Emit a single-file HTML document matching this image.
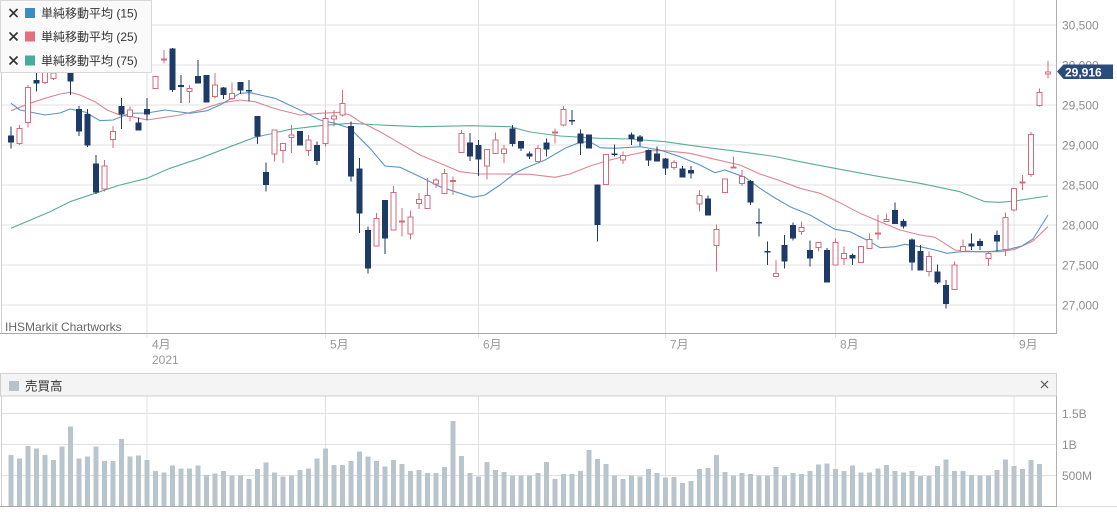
<!DOCTYPE html>
<html><head><meta charset="utf-8"><style>
html,body{margin:0;padding:0;background:#fff;}
svg{display:block;font-family:"Liberation Sans","Noto Sans CJK JP",sans-serif;}
</style></head><body>
<svg width="1117" height="512" viewBox="0 0 1117 512" xmlns="http://www.w3.org/2000/svg">
<rect width="1117" height="512" fill="#fff"/>
<!-- main grid -->
<g stroke="#e0e0e0" stroke-width="1" shape-rendering="crispEdges">
<path d="M2 25H1057M2 65H1057M2 105H1057M2 145H1057M2 185H1057M2 225H1057M2 265H1057M2 305H1057"/>
<path d="M147 0V338M325.5 0V338M478.5 0V338M665.5 0V338M835.5 0V338M1014 0V338"/>
<path d="M147 396V506M325.5 396V506M478.5 396V506M665.5 396V506M835.5 396V506M1014 396V506"/>
<path d="M2 413.5H1057M2 444.5H1057M2 475.5H1057"/>
</g>
<!-- borders -->
<g stroke-width="1" shape-rendering="crispEdges" fill="none">
<path d="M1.5 0V334" stroke="#cfcfcf"/>
<path d="M1056.5 0V334" stroke="#b0b0b0"/>
<path d="M0 333.5H1057" stroke="#a8a8a8"/>
<rect x="0.5" y="373.5" width="1056" height="22.5" fill="#f4f4f4" stroke="#d0d0d0"/>
<path d="M1.5 396V506" stroke="#cfcfcf"/>
<path d="M1056.5 396V506" stroke="#b0b0b0"/>
<path d="M0 506.5H1057" stroke="#a8a8a8"/>
<path d="M1057 506.5H1117" stroke="#dcdcdc"/>
</g>
<!-- volume bars -->
<path fill="#b8c5cd" shape-rendering="crispEdges" d="M8.5 455h5V506h-5zM17 458.3h5V506h-5zM25.5 446h5V506h-5zM34 448.3h5V506h-5zM42.5 455h5V506h-5zM51 460h5V506h-5zM59.5 446.7h5V506h-5zM68 426.7h5V506h-5zM76.5 458.3h5V506h-5zM85 456.7h5V506h-5zM93.5 446.7h5V506h-5zM102 461h5V506h-5zM110.5 461h5V506h-5zM119 439h5V506h-5zM127.5 456.7h5V506h-5zM136 455.7h5V506h-5zM144.5 460h5V506h-5zM153 471h5V506h-5zM161.5 472.3h5V506h-5zM170 465.7h5V506h-5zM178.5 468.3h5V506h-5zM187 468.3h5V506h-5zM195.5 465.7h5V506h-5zM204 475h5V506h-5zM212.5 473.3h5V506h-5zM221 471h5V506h-5zM229.5 475.7h5V506h-5zM238 475.7h5V506h-5zM246.5 479h5V506h-5zM255 469h5V506h-5zM263.5 462.3h5V506h-5zM272 472.3h5V506h-5zM280.5 476.7h5V506h-5zM289 475.7h5V506h-5zM297.5 470h5V506h-5zM306 468.3h5V506h-5zM314.5 458.3h5V506h-5zM323 448.3h5V506h-5zM331.5 465h5V506h-5zM340 465h5V506h-5zM348.5 461h5V506h-5zM357 451.7h5V506h-5zM365.5 456.7h5V506h-5zM374 461h5V506h-5zM382.5 466.7h5V506h-5zM391 460h5V506h-5zM399.5 464h5V506h-5zM408 471h5V506h-5zM416.5 470h5V506h-5zM425 473h5V506h-5zM433.5 473h5V506h-5zM442 467h5V506h-5zM450.5 421h5V506h-5zM459 456h5V506h-5zM467.5 473h5V506h-5zM476 476.7h5V506h-5zM484.5 462h5V506h-5zM493 470h5V506h-5zM501.5 472h5V506h-5zM510 475.3h5V506h-5zM518.5 475.3h5V506h-5zM527 475.3h5V506h-5zM535.5 473h5V506h-5zM544 462h5V506h-5zM552.5 479h5V506h-5zM561 474h5V506h-5zM569.5 474h5V506h-5zM578 471h5V506h-5zM586.5 450h5V506h-5zM595 459h5V506h-5zM603.5 464h5V506h-5zM612 475.3h5V506h-5zM620.5 479h5V506h-5zM629 475.3h5V506h-5zM637.5 476.7h5V506h-5zM646 469h5V506h-5zM654.5 473h5V506h-5zM663 477.7h5V506h-5zM671.5 477h5V506h-5zM680 483h5V506h-5zM688.5 481h5V506h-5zM697 469h5V506h-5zM705.5 468h5V506h-5zM714 455h5V506h-5zM722.5 472h5V506h-5zM731 475.7h5V506h-5zM739.5 473h5V506h-5zM748 474h5V506h-5zM756.5 475.3h5V506h-5zM765 475.7h5V506h-5zM773.5 467h5V506h-5zM782 475.3h5V506h-5zM790.5 473h5V506h-5zM799 474h5V506h-5zM807.5 471h5V506h-5zM816 464.3h5V506h-5zM824.5 463.3h5V506h-5zM833 469h5V506h-5zM841.5 471h5V506h-5zM850 465.7h5V506h-5zM858.5 472.3h5V506h-5zM867 472.3h5V506h-5zM875.5 468.3h5V506h-5zM884 465h5V506h-5zM892.5 471h5V506h-5zM901 472.3h5V506h-5zM909.5 471h5V506h-5zM918 476h5V506h-5zM926.5 476h5V506h-5zM935 466h5V506h-5zM943.5 459.3h5V506h-5zM952 471h5V506h-5zM960.5 471h5V506h-5zM969 475h5V506h-5zM977.5 475.7h5V506h-5zM986 475.7h5V506h-5zM994.5 470h5V506h-5zM1003 459.3h5V506h-5zM1011.5 466h5V506h-5zM1020 469h5V506h-5zM1028.5 460h5V506h-5zM1037 464h5V506h-5z"/>
<!-- moving averages -->
<g fill="none" stroke-width="1.1" stroke-linejoin="round">
<polyline stroke="#5bab9c" points="11,228.3 50,211.7 70,201.7 95,193.3 120,185 147,178.3 170,168.3 200,158.3 230,146.7 255,137.3 270,134 290,129.3 320,125.7 350,123.3 380,125 420,126.7 470,125.7 510,126.7 530,132 560,136 600,138.3 630,139 665,141.7 700,146.7 740,151.7 775,156.5 800,161.7 840,169.3 880,176.7 920,183.3 960,191.7 985,201.7 1000,202.3 1015,201 1048,196"/>
<polyline stroke="#dc8594" points="11,110.7 30,103.3 45,98.3 60,94 70,92.3 80,95 95,101.7 107,110 120,115 135,117.3 147,120 165,117.3 180,115 200,110 220,103.3 240,100 255,101.7 270,107 280,110 300,115 320,113.3 340,112.3 350,115 360,121.7 380,131.7 400,143.3 420,155 440,163.3 460,171.7 480,174 500,174 530,174.3 555,177.3 570,174 590,166 610,160 630,155 650,150.7 665,150.7 690,153.3 715,159.3 740,165 760,174 778,180 800,188.3 820,193.3 840,202.7 860,213.3 880,221.7 900,230 920,235 935,237.3 955,250 975,251.7 1000,251.7 1015,249.3 1033,241 1048,226.7"/>
<polyline stroke="#5a95c4" points="11,103.3 20,110 45,115 60,113 70,109 85,112 100,120.7 113,120 130,113.3 147,113 165,110 190,113.3 207,110.7 220,105 240,93.3 250,92.7 260,95 275,98.3 300,110 320,120 335,123.3 350,128.3 370,148.3 385,166 400,167.3 420,176.7 440,186.7 460,193.3 473,197.3 485,195 500,185 515,173.3 525,168.3 545,160 565,148.3 580,142.3 590,141.7 600,147.7 615,148.3 640,146.7 660,150 680,156.7 700,165 715,172.7 725,170 745,177.3 760,188.3 775,198 790,206.7 810,215 835,229.3 850,231.7 870,241.7 880,247.7 895,246.7 905,244.3 920,246.7 935,250 947,253.3 960,251.7 990,251.7 1010,249 1022,246 1033,239 1048,215"/>
</g>
<!-- candles -->
<g shape-rendering="crispEdges">
<path fill="none" stroke="#d46b7c" stroke-width="1" d="M19.5 125V145M28 85V127.7M45 68V84M53.5 70V80M62 45V65M104.5 160V191.7M113 126V148M130 106.7V121.7M155.5 76.7V88.3M164 50V63.3M189.5 85V103M215 73V98M232 82.7V100M274.5 130V161.7M283 143V163M291.5 125V153M308.5 135V156M325.5 110V146.7M334 110V126.7M342.5 90V116.7M376.5 213V246M393.5 186V230M402 208V236.7M410.5 210.7V239.3M419 193V209M427.5 178V208.3M436 178V188M444.5 169V193.3M453 176.7V195M461.5 130V152.3M487 149V179.3M495.5 132.7V153.3M504 145V163M538 145V161.7M555 128.3V143.3M563.5 106V126.7M606 154.3V184.3M623 151.7V164M674 160V170M699.5 190V211.7M716.5 224.3V271.7M725 179V192.3M733.5 156.7V168.3M742 170V186M776 260V276.7M801.5 221.7V235M818.5 242.7V251.7M835.5 238.3V265M844 246.7V265M861 246.7V262.3M869.5 233.3V248.3M878 215V239.3M886.5 213.3V221.7M929 251.7V276.7M954.5 261.7V289.3M963 239.3V251.7M988.5 251.7V266M1005.5 212.7V256M1014 188.3V211.7M1022.5 175V190M1031 132V177M1039.5 88.3V106.7M1048 61V78.3"/>
<path fill="#fff" stroke="#d46b7c" stroke-width="1" d="M17 128.3h5V143.3h-5zM25.5 87.3h5V122.3h-5zM42.5 71.3h5V82.5h-5zM51 73h5V78.3h-5zM59.5 47.7h5V62h-5zM102 166h5V189h-5zM110.5 131.7h5V139.3h-5zM127.5 110h5V116.7h-5zM153 76.7h5V88.3h-5zM161.5 58.8h5V59.8h-5zM187 88.3h5V91.7h-5zM212.5 85h5V96.7h-5zM229.5 93.3h5V98.3h-5zM272 130h5V154h-5zM280.5 143.3h5V150.7h-5zM289 135h5V137.3h-5zM306 140h5V150.7h-5zM323 118.3h5V143.3h-5zM331.5 116h5V119h-5zM340 103.3h5V115h-5zM374 218.3h5V246h-5zM391 192.7h5V230h-5zM399.5 221.2h5V222.2h-5zM408 217h5V234h-5zM416.5 199.3h5V203.3h-5zM425 195.7h5V208.3h-5zM433.5 180h5V184h-5zM442 173.3h5V193.3h-5zM450.5 180.5h5V181.5h-5zM459 133.3h5V152.3h-5zM484.5 149.3h5V166h-5zM493 140h5V153.3h-5zM501.5 149h5V153.3h-5zM535.5 148.3h5V161.7h-5zM552.5 131.8h5V132.8h-5zM561 109.3h5V125h-5zM603.5 154.3h5V184.3h-5zM620.5 155.7h5V160h-5zM671.5 162.7h5V167.7h-5zM697 195.7h5V204h-5zM714 229.3h5V245.7h-5zM722.5 179h5V192.3h-5zM731 167.2h5V168.2h-5zM739.5 176.7h5V183.3h-5zM773.5 273.3h5V276.7h-5zM799 227.3h5V231.7h-5zM816 242.7h5V247.3h-5zM833 242.7h5V265h-5zM841.5 253.3h5V258.3h-5zM858.5 246.7h5V262.3h-5zM867 239.3h5V248.3h-5zM875.5 232.8h5V233.8h-5zM884 219.3h5V221.7h-5zM926.5 256.7h5V271.7h-5zM952 265h5V289.3h-5zM960.5 246.7h5V251.7h-5zM986 253.3h5V258.3h-5zM1003 217.3h5V249.3h-5zM1011.5 188.3h5V210h-5zM1020 181.8h5V182.8h-5zM1028.5 134.3h5V174.3h-5zM1037 92.3h5V105.7h-5zM1045.5 72h5V74h-5z"/>
<path fill="none" stroke="#1e3a66" stroke-width="1" d="M11 126.7V148.3M36.5 73V91.7M70.5 50V95M79 106V136M87.5 109V147M96 155V194M121.5 98V129M138.5 117.7V130.7M147 98V120M172.5 48V92M181 75V103M198 60V83.3M206.5 75V102.7M223.5 87V99M240.5 82V94M249 80V101.7M257.5 116V144M266 162.7V191.7M300 131V145.7M317 141.7V165M351 121.7V181.7M359.5 158V233M368 226.7V273.3M385 200V254M470 133V161M478.5 140V176M512.5 125V146.7M521 141V151M529.5 151.7V159M546.5 138.3V156.7M572 110V125M580.5 129.3V155M589 134.3V148.3M597.5 184.3V241.7M614.5 144.3V156.7M631.5 132.3V145M640 135V146M648.5 149.3V166M657 146.7V161.7M665.5 158V175M682.5 166V177.7M691 166V178.3M708 195.7V215.7M750.5 180V205M759 208.3V236.7M767.5 241.7V265M784.5 235V268.3M793 222.7V240.7M810 240.7V266.7M827 248V282.7M852.5 253.3V265M895 202.3V224M903.5 219V228.3M912 238.3V270.7M920.5 245V270.7M937.5 264.3V284M946 280V308.3M971.5 233.3V250M980 238.3V250M997 230.7V251.7"/>
<path fill="#1e3a66" d="M8 135.3h6V142.7h-6zM33.5 80h6V83.3h-6zM67.5 55h6V81.7h-6zM76 109h6V131.7h-6zM84.5 114h6V145.7h-6zM93 163.3h6V192.7h-6zM118.5 106h6V114.3h-6zM135.5 122.3h6V130.7h-6zM144 109h6V114.3h-6zM169.5 48.3h6V90h-6zM178 85h6V87h-6zM195 76h6V83.3h-6zM203.5 75h6V102.7h-6zM220.5 87.3h6V95h-6zM237.5 82h6V90.7h-6zM246 90h6V91.5h-6zM254.5 116h6V136.7h-6zM263 172h6V185h-6zM297 131h6V145.7h-6zM314 145h6V161h-6zM348 126h6V176.7h-6zM356.5 168.3h6V213.3h-6zM365 230h6V268.3h-6zM382 200h6V238.3h-6zM467 142.7h6V156.7h-6zM475.5 145h6V159.3h-6zM509.5 128.3h6V144h-6zM518 141h6V148.3h-6zM526.5 153.5h6V156.7h-6zM543.5 142.3h6V149.3h-6zM569 120h6V121.5h-6zM577.5 133.3h6V143.3h-6zM586 134.3h6V148.3h-6zM594.5 184.3h6V225h-6zM611.5 153.5h6V155h-6zM628.5 134.3h6V139h-6zM637 136.7h6V141.7h-6zM645.5 150h6V160.7h-6zM654 153.3h6V161.7h-6zM662.5 158.3h6V168.3h-6zM679.5 168.3h6V177.7h-6zM688 170h6V173.3h-6zM705 198.3h6V215.7h-6zM747.5 181h6V202.7h-6zM756 222h6V223.5h-6zM764.5 251h6V252.5h-6zM781.5 245h6V261.7h-6zM790 225h6V238.3h-6zM807 250h6V258.3h-6zM824 250h6V282.7h-6zM849.5 255h6V258.3h-6zM892 210h6V224h-6zM900.5 221h6V226.7h-6zM909 239.3h6V262.7h-6zM917.5 251h6V270.7h-6zM934.5 271.7h6V282.7h-6zM943 285h6V304h-6zM968.5 243.3h6V246.7h-6zM977 241h6V246h-6zM994 235h6V241.7h-6z"/>
</g>
<!-- right axis labels -->
<g font-size="12" fill="#8e8e8e">
<text x="1062" y="29.5">30,500</text>
<text x="1062" y="69.5">30,000</text>
<text x="1062" y="109.5">29,500</text>
<text x="1062" y="149.5">29,000</text>
<text x="1062" y="189.5">28,500</text>
<text x="1062" y="229.5">28,000</text>
<text x="1062" y="269.5">27,500</text>
<text x="1062" y="309.5">27,000</text>
<text x="1062" y="418">1.5B</text>
<text x="1062" y="449">1B</text>
<text x="1062" y="480">500M</text>
</g>
<!-- price tag -->
<polygon points="1057,71.5 1063.5,64.5 1113,64.5 1113,79 1063.5,79" fill="#2b4b7d"/>
<text x="1065" y="76.3" font-size="12" font-weight="bold" fill="#fff">29,916</text>
<!-- x-axis labels -->
<g font-size="12" fill="#999">
<text x="152" y="348.5">4月</text>
<text x="152" y="364">2021</text>
<text x="330" y="348.5">5月</text>
<text x="483" y="348.5">6月</text>
<text x="670" y="348.5">7月</text>
<text x="840" y="348.5">8月</text>
<text x="1019" y="348.5">9月</text>
</g>
<text x="5" y="331" font-size="12" fill="#666">IHSMarkit Chartworks</text>
<!-- volume header -->
<rect x="9" y="381" width="10" height="10" fill="#b6c3cc"/>
<text x="25" y="390.5" font-size="12.5" fill="#333">売買高</text>
<path d="M1041 381L1048 388M1048 381L1041 388" stroke="#555" stroke-width="1.2"/>
<!-- legend -->
<rect x="0.5" y="0.5" width="151" height="72" fill="#fafafa" stroke="#d8d8d8"/>
<g stroke="#333" stroke-width="1.6">
<path d="M9.5 9L17.5 17M17.5 9L9.5 17"/>
<path d="M9.5 32.5L17.5 40.5M17.5 32.5L9.5 40.5"/>
<path d="M9.5 56.5L17.5 64.5M17.5 56.5L9.5 64.5"/>
</g>
<rect x="25" y="8" width="10" height="10" fill="#3c8dc5"/>
<rect x="25" y="31.5" width="10" height="10" fill="#e0717f"/>
<rect x="25" y="55.5" width="10" height="10" fill="#4aab9a"/>
<g font-size="12" fill="#333">
<text x="41" y="17.5">単純移動平均 (15)</text>
<text x="41" y="41">単純移動平均 (25)</text>
<text x="41" y="65">単純移動平均 (75)</text>
</g>
</svg>
</body></html>
